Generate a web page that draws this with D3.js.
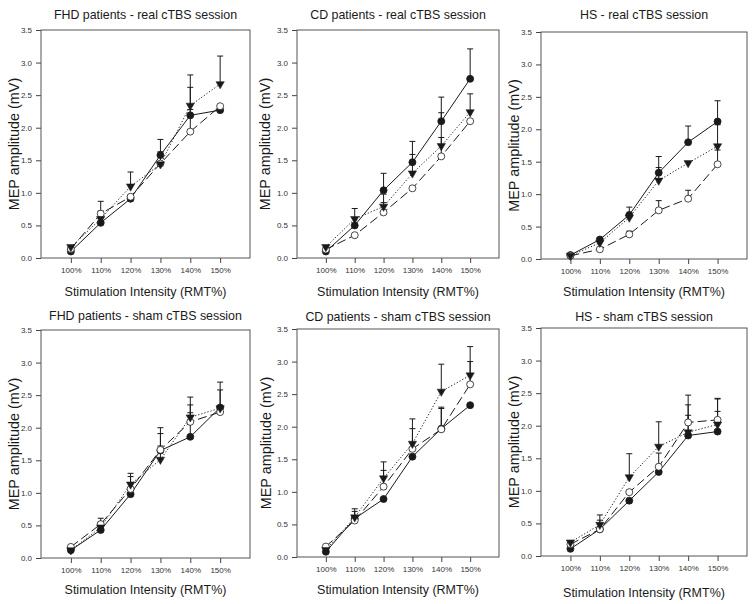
<!DOCTYPE html>
<html>
<head>
<meta charset="utf-8">
<script src="https://cdn.jsdelivr.net/npm/d3@7"></script>
<style>
html,body{margin:0;padding:0;background:#fff;}
svg text{font-family:"Liberation Sans",Arial,Helvetica,sans-serif;}
</style>
</head>
<body>
<svg id="chart" width="754" height="604"></svg>
<script>
// ---------- DATA ----------
const categories = ["100%","110%","120%","130%","140%","150%"];
const intensities = [100,110,120,130,140,150];
const yTicks = [0,0.5,1.0,1.5,2.0,2.5,3.0,3.5];
const titles = [
  "FHD patients - real cTBS session",
  "CD patients - real cTBS session",
  "HS - real cTBS session",
  "FHD patients - sham cTBS session",
  "CD patients - sham cTBS session",
  "HS - sham cTBS session"
];
const xLabel = "Stimulation Intensity (RMT%)";
const yLabel = "MEP amplitude (mV)";

// FHD real
const fhdRealFilled = [0.10,0.54,0.91,1.58,2.19,2.27];
const fhdRealFilledErr = [0,0.18,0,0.24,0.43,0];
const fhdRealOpen = [0.14,0.68,0.94,1.45,1.94,2.33];
const fhdRealOpenErr = [0,0.19,0,0,0.34,0];
const fhdRealTri = [0.17,0.60,1.10,1.44,2.34,2.67];
const fhdRealTriErr = [0,0,0.22,0.19,0.47,0.43];
// CD real
const cdRealFilled = [0.10,0.50,1.04,1.47,2.10,2.75];
const cdRealFilledErr = [0,0,0.26,0.32,0.37,0.46];
const cdRealOpen = [0.13,0.35,0.70,1.07,1.56,2.10];
const cdRealOpenErr = [0,0,0.15,0,0.29,0];
const cdRealTri = [0.17,0.60,0.79,1.30,1.72,2.24];
const cdRealTriErr = [0,0.16,0.19,0.29,0.51,0.28];
// HS real
const hsRealFilled = [0.06,0.30,0.68,1.33,1.80,2.12];
const hsRealFilledErr = [0,0.03,0.12,0.25,0.25,0.32];
const hsRealOpen = [0.05,0.15,0.38,0.75,0.93,1.46];
const hsRealOpenErr = [0,0,0.05,0.15,0.13,0.22];
const hsRealTri = [0.05,0.25,0.64,1.21,1.48,1.74];
const hsRealTriErr = [0,0,0,0.20,0,0.33];
// FHD sham
const fhdShamFilled = [0.12,0.43,0.98,1.65,1.86,2.31];
const fhdShamFilledErr = [0,0,0,0.26,0.37,0.27];
const fhdShamOpen = [0.17,0.52,1.06,1.66,2.09,2.24];
const fhdShamOpenErr = [0,0.09,0.19,0.34,0.26,0];
const fhdShamTri = [0.12,0.47,1.13,1.51,2.16,2.30];
const fhdShamTriErr = [0,0.08,0.17,0.21,0.31,0.40];
// CD sham
const cdShamFilled = [0.08,0.59,0.89,1.54,1.97,2.33];
const cdShamFilledErr = [0,0,0,0,0.33,0];
const cdShamOpen = [0.16,0.56,1.08,1.66,1.96,2.65];
const cdShamOpenErr = [0,0.14,0.25,0.31,0.32,0.35];
const cdShamTri = [0.11,0.61,1.21,1.74,2.54,2.79];
const cdShamTriErr = [0,0.13,0.25,0.38,0.42,0.44];
// HS sham
const hsShamFilled = [0.11,0.41,0.85,1.29,1.85,1.91];
const hsShamFilledErr = [0,0,0,0,0.31,0.31];
const hsShamOpen = [0.18,0.41,0.98,1.37,2.05,2.09];
const hsShamOpenErr = [0.03,0.14,0,0.21,0.42,0.33];
const hsShamTri = [0.21,0.48,1.21,1.68,1.90,2.02];
const hsShamTriErr = [0,0.15,0.36,0.38,0.42,0.39];

const panelData = [
  {filled:fhdRealFilled, filledErr:fhdRealFilledErr, open:fhdRealOpen, openErr:fhdRealOpenErr, tri:fhdRealTri, triErr:fhdRealTriErr},
  {filled:cdRealFilled, filledErr:cdRealFilledErr, open:cdRealOpen, openErr:cdRealOpenErr, tri:cdRealTri, triErr:cdRealTriErr},
  {filled:hsRealFilled, filledErr:hsRealFilledErr, open:hsRealOpen, openErr:hsRealOpenErr, tri:hsRealTri, triErr:hsRealTriErr},
  {filled:fhdShamFilled, filledErr:fhdShamFilledErr, open:fhdShamOpen, openErr:fhdShamOpenErr, tri:fhdShamTri, triErr:fhdShamTriErr},
  {filled:cdShamFilled, filledErr:cdShamFilledErr, open:cdShamOpen, openErr:cdShamOpenErr, tri:cdShamTri, triErr:cdShamTriErr},
  {filled:hsShamFilled, filledErr:hsShamFilledErr, open:hsShamOpen, openErr:hsShamOpenErr, tri:hsShamTri, triErr:hsShamTriErr}
];

// ---------- LAYOUT ----------
const layout = [
  {l:41, r:250, t:30, b:258, titleY:19, xLabY:296, yLabX:14},
  {l:297, r:499, t:30, b:258, titleY:19, xLabY:296, yLabX:265},
  {l:541, r:747, t:32, b:259, titleY:19, xLabY:296, yLabX:514},
  {l:41, r:250, t:330, b:558, titleY:320, xLabY:594, yLabX:14},
  {l:297, r:499, t:329, b:557, titleY:321, xLabY:594, yLabX:266},
  {l:541, r:747, t:328, b:556, titleY:321, xLabY:597, yLabX:514}
];

const svg = d3.select("#chart");
const ink = "#1a1a1a";

layout.forEach((L, i) => {
  const d = panelData[i];
  const g = svg.append("g");
  const x = d3.scaleLinear().domain([90,160]).range([L.l, L.r]);
  const y = d3.scaleLinear().domain([0,3.5]).range([L.b, L.t]);

  // axes
  const xa = g.append("g").attr("transform", `translate(0,${L.b})`)
    .call(d3.axisBottom(x).tickValues(intensities).tickFormat((v,k)=>categories[k]).tickSize(5).tickPadding(4));
  const ya = g.append("g").attr("transform", `translate(${L.l},0)`)
    .call(d3.axisLeft(y).tickValues(yTicks).tickFormat(d3.format(".1f")).tickSize(5).tickPadding(4));
  [xa, ya].forEach(a => {
    a.select(".domain").remove();
    a.selectAll(".tick line").attr("stroke", "#444");
    a.selectAll(".tick text").attr("fill", "#333").style("font-size", "8px");
  });

  // frame
  g.append("rect").attr("x", L.l).attr("y", L.t).attr("width", L.r - L.l).attr("height", L.b - L.t)
    .attr("fill", "none").attr("stroke", "#555").attr("stroke-width", 1);

  // titles
  g.append("text").attr("x", (L.l + L.r)/2).attr("y", L.titleY).attr("text-anchor", "middle")
    .style("font-size", "12.4px").attr("fill", ink).text(titles[i]);
  g.append("text").attr("x", (L.l + L.r)/2).attr("y", L.xLabY).attr("text-anchor", "middle")
    .style("font-size", "12.5px").attr("fill", ink).text(xLabel);
  g.append("text").attr("transform", `translate(${L.yLabX},${(L.t + L.b)/2}) rotate(-90)`)
    .attr("text-anchor", "middle").attr("dy", "0.35em")
    .style("font-size", "14.4px").attr("fill", ink).text(yLabel);

  const series = [
    {vals:d.filled, err:d.filledErr, dash:null, kind:"filled"},
    {vals:d.open, err:d.openErr, dash:"9,4", kind:"open"},
    {vals:d.tri, err:d.triErr, dash:"1.2,2", kind:"tri"}
  ];
  const line = d3.line().x((v,k)=>x(intensities[k])).y(v=>y(v));

  // lines
  series.forEach(s => {
    g.append("path").datum(s.vals).attr("d", line).attr("fill", "none")
      .attr("stroke", ink).attr("stroke-width", 1)
      .attr("stroke-dasharray", s.dash);
  });
  // error bars (upper only)
  series.forEach(s => {
    s.vals.forEach((v,k) => {
      const e = s.err[k];
      if (!(e > 0)) return;
      const cx = x(intensities[k]);
      g.append("line").attr("x1", cx).attr("x2", cx).attr("y1", y(v)).attr("y2", y(v + e))
        .attr("stroke", ink).attr("stroke-width", 1);
      g.append("line").attr("x1", cx - 3).attr("x2", cx + 3).attr("y1", y(v + e)).attr("y2", y(v + e))
        .attr("stroke", ink).attr("stroke-width", 1);
    });
  });
  // markers
  const triSym = d3.symbol().type(d3.symbolTriangle).size(30);
  series.forEach(s => {
    s.vals.forEach((v,k) => {
      const cx = x(intensities[k]), cy = y(v);
      if (s.kind === "tri") {
        g.append("path").attr("d", triSym()).attr("transform", `translate(${cx},${cy}) rotate(180)`)
          .attr("fill", ink).attr("stroke", ink).attr("stroke-width", 0.5);
      } else {
        g.append("circle").attr("cx", cx).attr("cy", cy).attr("r", 3.5)
          .attr("fill", s.kind === "filled" ? ink : "#fff").attr("stroke", ink).attr("stroke-width", 0.8);
      }
    });
  });
});
</script>
</body>
</html>
